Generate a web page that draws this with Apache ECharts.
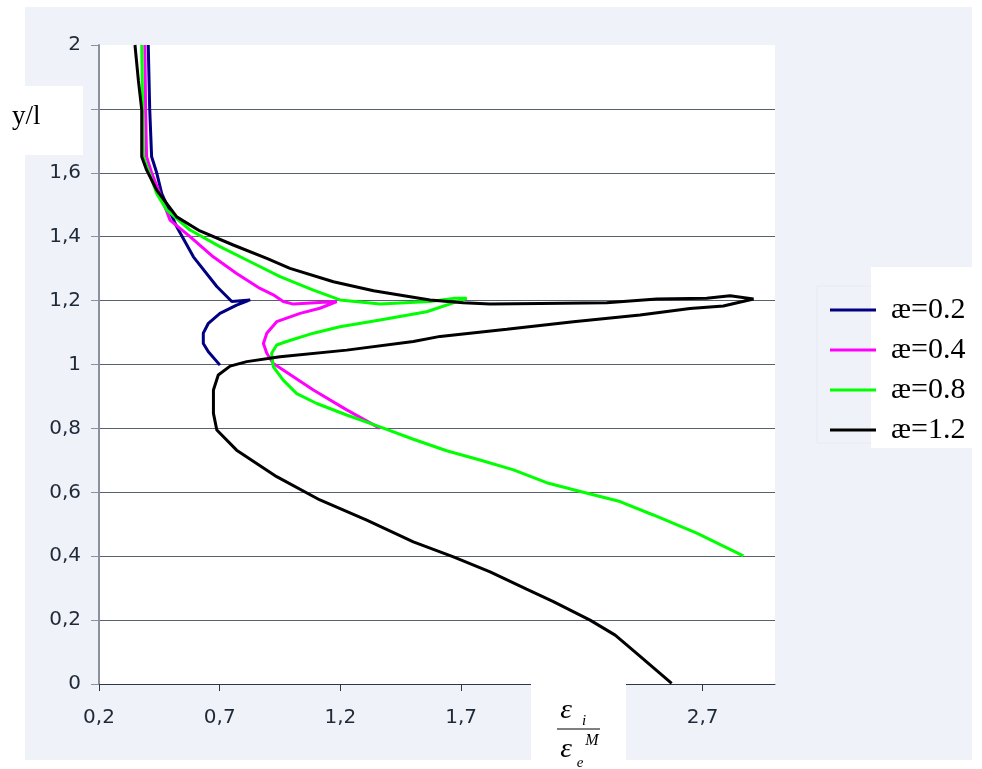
<!DOCTYPE html>
<html>
<head>
<meta charset="utf-8">
<script src="https://cdn.jsdelivr.net/npm/echarts@6/dist/echarts.min.js"></script>
<style>html,body{margin:0;padding:0;background:#fff}#c{width:982px;height:769px}</style>
</head>
<body>
<div id="c"></div>
<script>
// Series names
const seriesNames = ['æ=0.2', 'æ=0.4', 'æ=0.8', 'æ=1.2'];
// x tick labels
const xTicks = [0.2, 0.7, 1.2, 1.7, 2.2, 2.7];

// æ=0.2
const s1X = [0.404, 0.41, 0.418, 0.439, 0.46, 0.522, 0.591, 0.688, 0.75, 0.826, 0.77, 0.701, 0.653, 0.632, 0.632, 0.653, 0.701];
const s1Y = [2.0, 1.8, 1.65, 1.6, 1.535, 1.431, 1.337, 1.244, 1.197, 1.202, 1.186, 1.16, 1.129, 1.098, 1.066, 1.04, 0.998];
// æ=0.4
const s2X = [0.39, 0.393, 0.397, 0.418, 0.46, 0.494, 0.577, 0.673, 0.77, 0.867, 0.922, 0.963, 1.005, 1.185, 1.115, 1.033, 0.936, 0.895, 0.881, 0.895, 0.922, 0.963, 1.088, 1.226, 1.364];
const s2Y = [2.0, 1.8, 1.65, 1.6, 1.52, 1.452, 1.4, 1.337, 1.285, 1.238, 1.218, 1.197, 1.189, 1.197, 1.176, 1.16, 1.134, 1.098, 1.066, 1.035, 1.003, 0.983, 0.92, 0.858, 0.8];
// æ=0.8
const s3X = [0.377, 0.381, 0.384, 0.408, 0.439, 0.48, 0.577, 0.701, 0.839, 0.95, 1.088, 1.198, 1.364, 1.571, 1.668, 1.723, 1.557, 1.364, 1.198, 1.088, 0.977, 0.936, 0.915, 0.922, 0.963, 1.019, 1.102, 1.226, 1.364, 1.502, 1.64, 1.778, 1.917, 2.054, 2.206, 2.358, 2.496, 2.676, 2.869];
const s3Y = [2.0, 1.8, 1.65, 1.6, 1.535, 1.484, 1.421, 1.369, 1.317, 1.275, 1.233, 1.202, 1.189, 1.197, 1.207, 1.207, 1.165, 1.139, 1.118, 1.098, 1.072, 1.061, 1.035, 0.993, 0.951, 0.909, 0.878, 0.842, 0.805, 0.766, 0.73, 0.701, 0.67, 0.63, 0.6, 0.571, 0.529, 0.472, 0.401];
// æ=1.2
const s4X = [0.349, 0.363, 0.377, 0.377, 0.397, 0.439, 0.522, 0.618, 0.756, 0.895, 0.991, 1.171, 1.337, 1.571, 1.709, 1.82, 2.027, 2.303, 2.51, 2.717, 2.814, 2.911, 2.786, 2.648, 2.441, 2.165, 1.889, 1.613, 1.502, 1.226, 0.95, 0.812, 0.743, 0.694, 0.674, 0.674, 0.688, 0.77, 0.936, 1.115, 1.309, 1.502, 1.668, 1.82, 1.971, 2.082, 2.234, 2.338, 2.427, 2.572];
const s4Y = [2.0, 1.89, 1.797, 1.65, 1.609, 1.546, 1.462, 1.418, 1.374, 1.332, 1.301, 1.259, 1.231, 1.202, 1.193, 1.189, 1.191, 1.193, 1.205, 1.207, 1.215, 1.205, 1.183, 1.175, 1.155, 1.134, 1.11, 1.088, 1.072, 1.045, 1.024, 1.009, 0.995, 0.967, 0.92, 0.847, 0.795, 0.732, 0.649, 0.576, 0.513, 0.445, 0.398, 0.351, 0.297, 0.258, 0.2, 0.153, 0.096, 0.002];

const colors = ['#000080', '#ff00ff', '#00ff00', '#000000'];
const xs = [s1X, s2X, s3X, s4X];
const ys = [s1Y, s2Y, s3Y, s4Y];

function zip(a, b) { return a.map((v, i) => [v, b[i]]); }
function fmt(v) { return (Math.round(v * 10) / 10).toString().replace('.', ','); }

const chart = echarts.init(document.getElementById('c'), null, { renderer: 'canvas' });
const labelFont = { fontFamily: 'DejaVu Sans, sans-serif', fontSize: 20, color: '#1f2937' };
const serifIt = (size) => 'italic ' + size + 'px "Liberation Serif", serif';

chart.setOption({
  animation: false,
  backgroundColor: '#ffffff',
  grid: { left: 99, right: 207, top: 45, bottom: 85, show: true, backgroundColor: '#ffffff', borderWidth: 0 },
  xAxis: {
    type: 'value', min: 0.2, max: 3.0,
    axisLine: { show: true, onZero: false, lineStyle: { color: '#2d3748', width: 1 } },
    axisTick: { show: true, length: 7, customValues: xTicks, lineStyle: { color: '#2d3748' } },
    axisLabel: { customValues: xTicks, formatter: fmt, margin: 24, ...labelFont },
    splitLine: { show: false }
  },
  yAxis: {
    type: 'value', min: 0, max: 2, interval: 0.2,
    axisLine: { show: true, onZero: false, lineStyle: { color: '#8a919c', width: 2 } },
    axisTick: { show: true, length: 8, lineStyle: { color: '#8a919c' } },
    axisLabel: { formatter: fmt, margin: 18, ...labelFont },
    splitLine: { show: true, showMaxLine: false, lineStyle: { color: '#58606c', width: 1 } }
  },
  legend: {
    orient: 'vertical', left: 825, top: 290,
    icon: 'rect', itemWidth: 46, itemHeight: 3, itemGap: 10,
    data: seriesNames,
    textStyle: { fontFamily: 'Liberation Serif, Times New Roman, serif', fontSize: 30, color: '#000', lineHeight: 30, padding: [0, 0, 0, 10] },
    z: 20
  },
  graphic: [
    { type: 'rect', z: -10, silent: true, shape: { x: 25, y: 7, width: 947, height: 753 }, style: { fill: '#eff2f9' } },
    { type: 'rect', z: -5, silent: true, shape: { x: 871, y: 267, width: 111, height: 181 }, style: { fill: '#ffffff' } },
    { type: 'rect', z: -6, silent: true, shape: { x: 817, y: 286, width: 155, height: 157 }, style: { fill: 'none', stroke: '#e6eaf3', lineWidth: 1 } },
    { type: 'rect', z: 50, silent: true, shape: { x: 0, y: 86, width: 83, height: 69 }, style: { fill: '#ffffff' } },
    { type: 'text', z: 51, silent: true, x: 12, y: 117, style: { text: 'y/l', font: '27px "Liberation Serif", serif', fill: '#000', verticalAlign: 'middle' } },
    { type: 'rect', z: 50, silent: true, shape: { x: 531, y: 682, width: 95, height: 87 }, style: { fill: '#ffffff' } },
    { type: 'text', z: 51, silent: true, x: 566, y: 711, scaleX: 1.1, style: { text: 'ε', font: serifIt(27), fill: '#000', align: 'center', verticalAlign: 'middle' } },
    { type: 'text', z: 51, silent: true, x: 584, y: 721, style: { text: 'i', font: serifIt(15), fill: '#000', align: 'center', verticalAlign: 'middle' } },
    { type: 'line', z: 51, silent: true, shape: { x1: 557, y1: 729, x2: 600, y2: 729 }, style: { stroke: '#000', lineWidth: 1 } },
    { type: 'text', z: 51, silent: true, x: 566, y: 750, scaleX: 1.1, style: { text: 'ε', font: serifIt(27), fill: '#000', align: 'center', verticalAlign: 'middle' } },
    { type: 'text', z: 51, silent: true, x: 580, y: 763, style: { text: 'e', font: serifIt(15), fill: '#000', align: 'center', verticalAlign: 'middle' } },
    { type: 'text', z: 51, silent: true, x: 592, y: 741, style: { text: 'M', font: serifIt(16), fill: '#000', align: 'center', verticalAlign: 'middle' } }
  ],
  series: seriesNames.map((n, i) => ({
    name: n, type: 'line', data: zip(xs[i], ys[i]),
    showSymbol: false, symbol: 'none', smooth: false,
    lineStyle: { color: colors[i], width: 3 }, itemStyle: { color: colors[i] },
    clip: false
  }))
});
</script>
</body>
</html>
